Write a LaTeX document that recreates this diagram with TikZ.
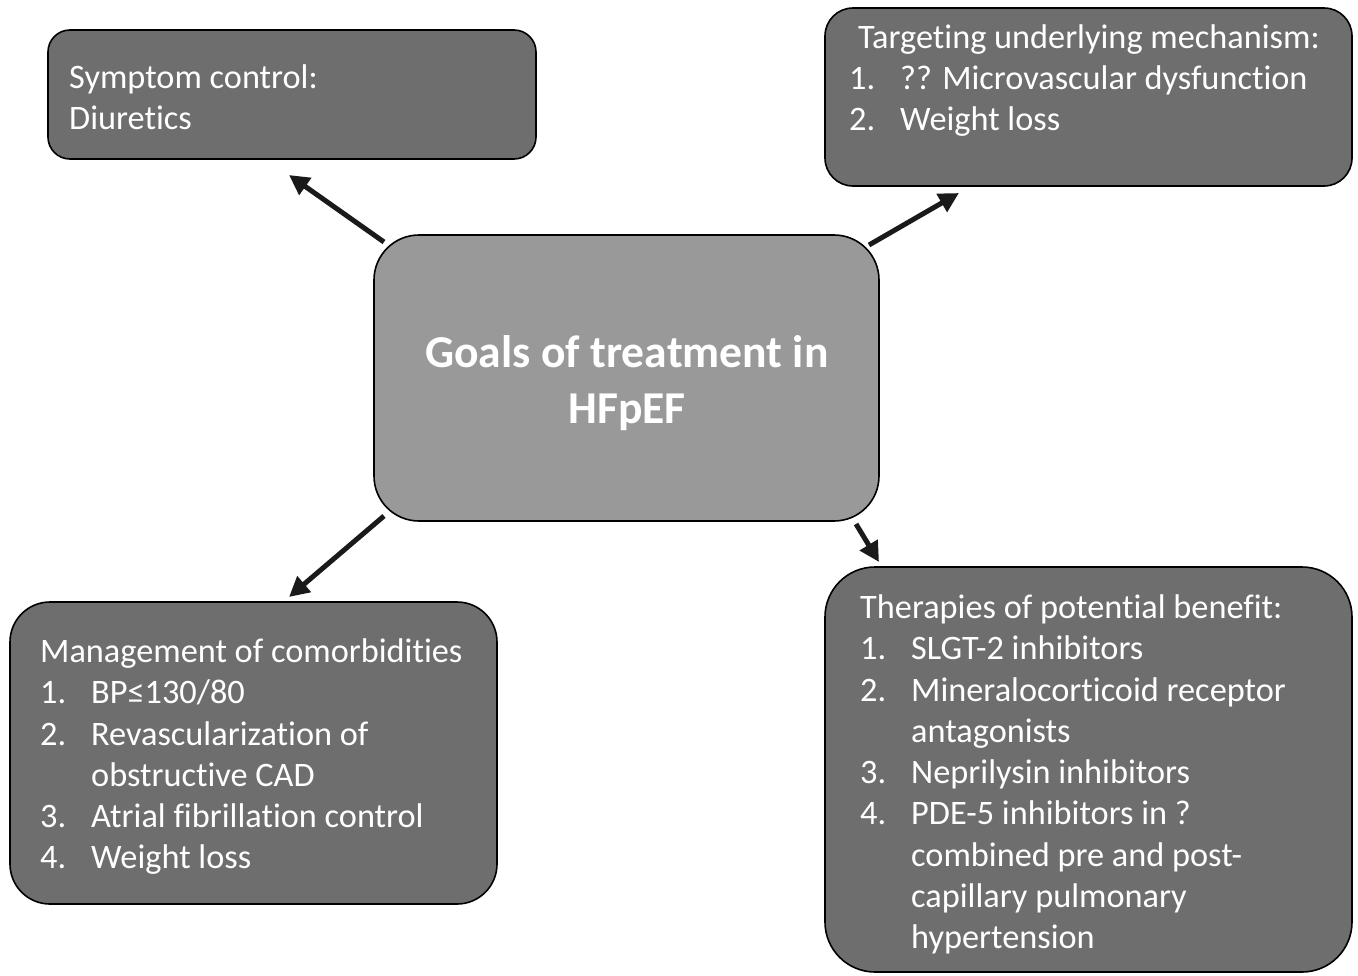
\documentclass[tikz,border=0pt]{standalone}
\usepackage{fontspec}
\setmainfont{Carlito}[Ligatures=NoCommon]
\usetikzlibrary{arrows.meta}
\definecolor{darkbox}{HTML}{6E6E6E}
\definecolor{midbox}{HTML}{999999}
\definecolor{arrowc}{HTML}{1A1A1A}
\tikzset{
  boxstyle/.style={draw=black, line width=1.6pt, fill=darkbox},
  ctrstyle/.style={draw=black, line width=1.6pt, fill=midbox},
  txt/.style={anchor=base west, inner sep=0pt, text=white, font=\fontsize{34.3}{40}\selectfont},
  ctxt/.style={anchor=base, inner sep=0pt, text=white, font=\fontsize{45.6}{52}\selectfont\bfseries},
  arr/.style={draw=arrowc, line width=5pt, -{Triangle[length=20pt,width=20pt]}}
}
\begin{document}
\begin{tikzpicture}[x=1pt,y=-1pt]
\useasboundingbox (0,0) rectangle (1358,975);
% boxes
\draw[boxstyle, rounded corners=22pt] (48,30) rectangle (536,159);
\draw[boxstyle, rounded corners=28pt] (825,8) rectangle (1352,186);
\draw[ctrstyle, rounded corners=45pt] (374,235) rectangle (879,521);
\draw[boxstyle, rounded corners=40pt] (10,602) rectangle (497,904);
\draw[boxstyle, rounded corners=50pt] (825,567) rectangle (1352,972);
% box 1
\node[txt] (b1l1) at (69,88) {Symptom control:};
\node[txt] (b1l2) at (69,129) {Diuretics};
% box 2
\node[txt] (b2l1) at (858,48) {Targeting underlying mechanism:};
\node[txt] (b2n1) at (849,89) {1.};
\node[txt] (b2t1) at (900,89) {?? Microvascular dysfunction};
\node[txt] (b2n2) at (849,130) {2.};
\node[txt] (b2t2) at (900,130) {Weight loss};
% center
\node[ctxt] (c1) at (627,367) {Goals of treatment in};
\node[ctxt] (c2) at (627,423) {HFpEF};
% box 4
\node[txt] (b4l1) at (40,662) {Management of comorbidities};
\node[txt] (b4n1) at (40,703) {1.};
\node[txt] (b4t1) at (91,703) {BP≤130/80};
\node[txt] (b4n2) at (40,745) {2.};
\node[txt] (b4t2) at (91,745) {Revascularization of};
\node[txt] (b4t2b) at (91,786) {obstructive CAD};
\node[txt] (b4n3) at (40,827) {3.};
\node[txt] (b4t3) at (91,827) {Atrial fibrillation control};
\node[txt] (b4n4) at (40,868) {4.};
\node[txt] (b4t4) at (91,868) {Weight loss};
% box 5
\node[txt] (b5l1) at (860,618) {Therapies of potential benefit:};
\node[txt] (b5n1) at (860,659) {1.};
\node[txt] (b5t1) at (911,659) {SLGT-2 inhibitors};
\node[txt] (b5n2) at (860,701) {2.};
\node[txt] (b5t2) at (911,701) {Mineralocorticoid receptor};
\node[txt] (b5t2b) at (911,742) {antagonists};
\node[txt] (b5n3) at (860,783) {3.};
\node[txt] (b5t3) at (911,783) {Neprilysin inhibitors};
\node[txt] (b5n4) at (860,824) {4.};
\node[txt] (b5t4) at (911,824) {PDE-5 inhibitors in ?};
\node[txt] (b5t4b) at (911,866) {combined pre and post-};
\node[txt] (b5t4c) at (911,907) {capillary pulmonary};
\node[txt] (b5t4d) at (911,948) {hypertension};
% arrows
\coordinate (a1s) at (384,242);
\coordinate (a1e) at (289,175);
\coordinate (a2s) at (869,245);
\coordinate (a2e) at (959,193);
\coordinate (a3s) at (384,516);
\coordinate (a3e) at (289,597);
\coordinate (a4s) at (856,524);
\coordinate (a4e) at (879,562);
\draw[arr] (a1s) -- (a1e);
\draw[arr] (a2s) -- (a2e);
\draw[arr] (a3s) -- (a3e);
\draw[arr] (a4s) -- (a4e);
\end{tikzpicture}
\end{document}
